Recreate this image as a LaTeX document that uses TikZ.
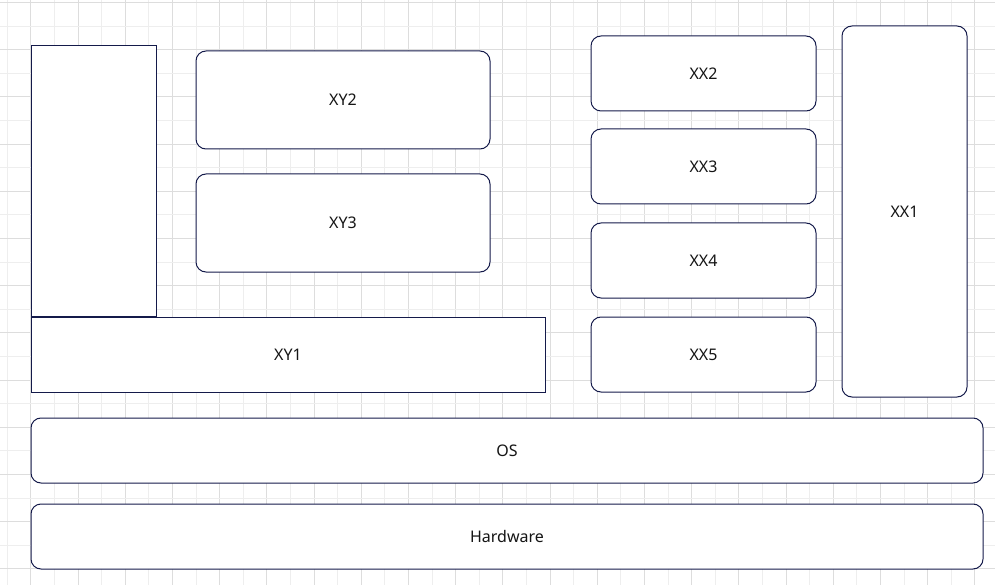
\documentclass[tikz,border=0pt]{standalone}
\usepackage{fontspec}
\setmainfont{Noto Sans}
\definecolor{edge}{HTML}{141A4A}
\definecolor{gridminor}{HTML}{EEEEEE}
\definecolor{gridmajor}{HTML}{DDDDDD}
\definecolor{txt}{HTML}{151515}
\begin{document}
\begin{tikzpicture}[x=1pt,y=-1pt,
  box/.style={draw=edge, line width=1pt, fill=white, rounded corners=10pt, inner sep=0pt, text=txt, text depth=-3pt, font=\fontsize{16}{19}\selectfont},
  sharpbox/.style={box, sharp corners}]
\useasboundingbox (0,0) rectangle (995,585);
\fill[white] (0,0) rectangle (995,585);
% grid
\foreach \k in {0,...,41}{
  \pgfmathsetmacro{\xx}{7.3+23.6*\k}
  \pgfmathtruncatemacro{\odd}{mod(\k,2)}
  \ifnum\odd=1 \draw[gridmajor, line width=1pt] (\xx,0) -- (\xx,585);
  \else \draw[gridminor, line width=1pt] (\xx,0) -- (\xx,585); \fi
}
\foreach \k in {0,...,24}{
  \pgfmathsetmacro{\yy}{2.5+23.6*\k}
  \pgfmathtruncatemacro{\odd}{mod(\k,2)}
  \ifnum\odd=0 \draw[gridmajor, line width=1pt] (0,\yy) -- (995,\yy);
  \else \draw[gridminor, line width=1pt] (0,\yy) -- (995,\yy); \fi
}
% boxes
\node[sharpbox, minimum width=125pt, minimum height=270pt] (tall) at (93.5,181) {};
\node[box, minimum width=294pt, minimum height=98pt] (xy2) at (343,100) {XY2};
\node[box, minimum width=294pt, minimum height=98pt] (xy3) at (343,223) {XY3};
\node[sharpbox, minimum width=514pt, minimum height=75pt] (xy1) at (288,354.5) {XY1};
\node[box, minimum width=225pt, minimum height=75pt] (xx2) at (703.5,73.5) {XX2};
\node[box, minimum width=225pt, minimum height=75pt] (xx3) at (703.5,166.5) {XX3};
\node[box, minimum width=225pt, minimum height=75pt] (xx4) at (703.5,260.5) {XX4};
\node[box, minimum width=225pt, minimum height=75pt] (xx5) at (703.5,354.5) {XX5};
\node[box, minimum width=125pt, minimum height=371pt] (xx1) at (904.5,211.5) {XX1};
\node[box, minimum width=952pt, minimum height=65pt] (os) at (507,450.5) {OS};
\node[box, minimum width=952pt, minimum height=65pt] (hw) at (507,536.5) {Hardware};
\end{tikzpicture}
\end{document}
